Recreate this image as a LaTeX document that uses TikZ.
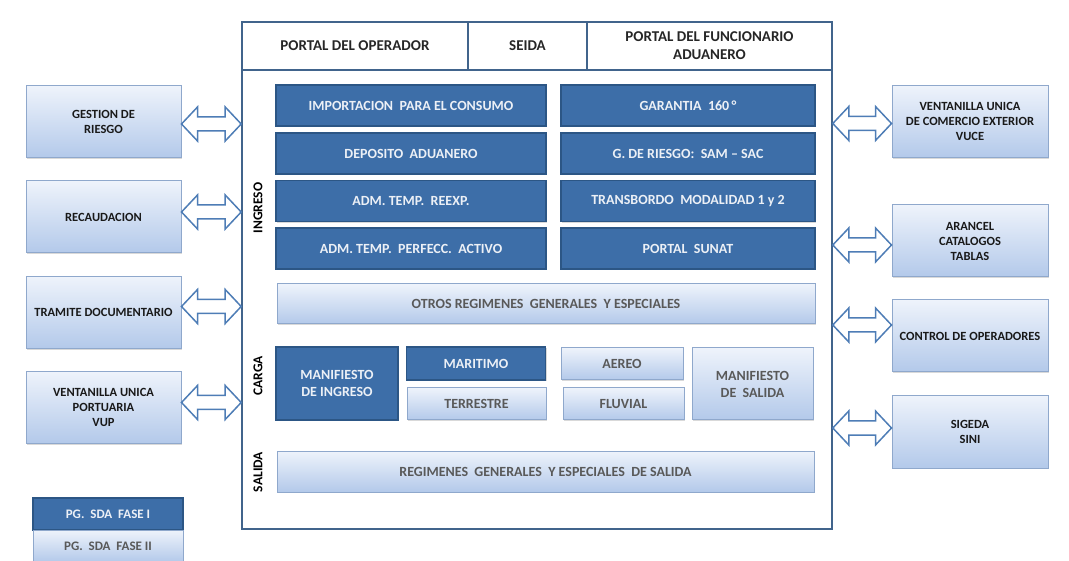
\documentclass[tikz,border=0pt]{standalone}
\usepackage{fontspec}
\setmainfont{Carlito}
\usetikzlibrary{calc,shadows}
\definecolor{azulosc}{HTML}{3D6EA8}
\definecolor{bordeosc}{HTML}{2C5685}
\definecolor{azulcla}{HTML}{B3C9EA}
\definecolor{blancoaz}{HTML}{EEF3FB}
\definecolor{bordecla}{HTML}{8FA8CC}
\definecolor{marcoc}{HTML}{41648C}
\definecolor{flechac}{HTML}{4E7DB6}
\newcommand{\dflecha}[2]{%
  \draw[flecha] let \p1=(#1), \p2=(#2) in
    (\x1,\y1) -- (\x1+16pt,\y1+17pt) -- (\x1+16pt,\y1+7pt) -- (\x2-16pt,\y1+7pt)
    -- (\x2-16pt,\y1+17pt) -- (\x2,\y1) -- (\x2-16pt,\y1-17pt) -- (\x2-16pt,\y1-7pt)
    -- (\x1+16pt,\y1-7pt) -- (\x1+16pt,\y1-17pt) -- cycle;}
\begin{document}
\begin{tikzpicture}[x=1pt,y=-1pt, font=\bfseries,
  oscuro/.style={draw=bordeosc, line width=1.2pt, fill=azulosc, text=white!90!azulosc, align=center, font=\bfseries\fontsize{14}{17}\selectfont, drop shadow={opacity=0.3,shadow xshift=1.2pt,shadow yshift=-1.2pt}},
  claro/.style={draw=bordecla, line width=1pt, top color=blancoaz, bottom color=azulcla, text=black!65, align=center, font=\bfseries\fontsize{14}{17}\selectfont, drop shadow={opacity=0.3,shadow xshift=1.2pt,shadow yshift=-1.2pt}},
  lado/.style={claro, minimum width=155, minimum height=72, text=black!90, font=\bfseries\fontsize{12.5}{15}\selectfont},
  cab/.style={draw=marcoc, line width=1.6pt, align=center, minimum height=48, font=\bfseries\fontsize{15}{18}\selectfont, text=black!85},
  etiq/.style={rotate=90, font=\bfseries\fontsize{13.5}{16}\selectfont},
  flecha/.style={draw=flechac, line width=1.5pt, fill=white, line join=miter}]
\useasboundingbox (0,0) rectangle (1069,561);

\node[draw=marcoc, line width=1.6pt, minimum width=590, minimum height=459] (marco) at (537,299.5) {};
\node[cab, minimum width=226] (oper) at (355,46) {PORTAL\ DEL OPERADOR};
\node[cab, minimum width=119] (seida) at (527.5,46) {SEIDA};
\node[cab, minimum width=245] (func) at (709.5,46) {PORTAL\ DEL FUNCIONARIO\\ADUANERO};

\node[etiq] (ingreso) at (258,208) {INGRESO};
\node[etiq] (carga) at (258,376) {CARGA};
\node[etiq] (salida) at (258,472) {SALIDA};

\node[oscuro, minimum width=270, minimum height=41] (imp) at (411,105.5) {IMPORTACION\ \ PARA EL CONSUMO};
\node[oscuro, minimum width=270, minimum height=41] (dep) at (411,153.5) {DEPOSITO\ \ ADUANERO};
\node[oscuro, minimum width=270, minimum height=41] (reexp) at (411,201) {ADM. TEMP.\ \ REEXP.};
\node[oscuro, minimum width=270, minimum height=41] (perf) at (411,248.5) {ADM. TEMP.\ \ PERFECC.\ \ ACTIVO};
\node[oscuro, minimum width=254, minimum height=41] (gar) at (688,105.5) {GARANTIA\ \ 160\,°};
\node[oscuro, minimum width=254, minimum height=41] (griesgo) at (688,153.5) {G. DE RIESGO:\ \ SAM -- SAC};
\node[oscuro, minimum width=254, minimum height=41] (trans) at (688,201) {TRANSBORDO\ \ MODALIDAD 1 y 2};
\node[oscuro, minimum width=254, minimum height=41] (sunat) at (688,248.5) {PORTAL\ \ SUNAT};

\node[claro, minimum width=538, minimum height=40] (otros) at (546,304) {OTROS REGIMENES\ \ GENERALES\ \ Y ESPECIALES};

\node[oscuro, minimum width=122, minimum height=73] (mani) at (337,383.5) {MANIFIESTO\\DE INGRESO};
\node[oscuro, minimum width=139, minimum height=33] (mar) at (476,363.5) {MARITIMO};
\node[claro, minimum width=139, minimum height=32] (ter) at (476.5,404) {TERRESTRE};
\node[claro, minimum width=122, minimum height=32] (aer) at (622,364) {AEREO};
\node[claro, minimum width=121, minimum height=32] (flu) at (623.5,404) {FLUVIAL};
\node[claro, minimum width=121, minimum height=72] (mans) at (752.5,384) {MANIFIESTO\\DE\ \ SALIDA};

\node[claro, minimum width=537, minimum height=41] (reg) at (545.5,471.5) {REGIMENES\ \ GENERALES\ \ Y ESPECIALES\ \ DE SALIDA};

\node[lado] (gr) at (103.5,122) {GESTION DE\\RIESGO};
\node[lado] (rec) at (103.5,217) {RECAUDACION};
\node[lado] (tra) at (103.5,312.5) {TRAMITE DOCUMENTARIO};
\node[lado] (vup) at (103.5,407.5) {VENTANILLA UNICA\\PORTUARIA\\VUP};

\node[lado, minimum width=156] (vuce) at (970,121.5) {VENTANILLA UNICA\\DE COMERCIO EXTERIOR\\VUCE};
\node[lado, minimum width=156] (ara) at (970,241) {ARANCEL\\CATALOGOS\\TABLAS};
\node[lado, minimum width=156] (con) at (970,336) {CONTROL DE OPERADORES};
\node[lado, minimum width=156] (sig) at (970,432) {SIGEDA\\SINI};

\dflecha{[yshift=-2pt]gr.east}{[yshift=-2pt]gr.east -| marco.west}
\dflecha{[yshift=5pt]rec.east}{[yshift=5pt]rec.east -| marco.west}
\dflecha{[yshift=6pt]tra.east}{[yshift=6pt]tra.east -| marco.west}
\dflecha{[yshift=5pt]vup.east}{[yshift=5pt]vup.east -| marco.west}
\dflecha{[yshift=-2pt]vuce.west -| marco.east}{[yshift=-2pt]vuce.west}
\dflecha{[yshift=-4pt]ara.west -| marco.east}{[yshift=-4pt]ara.west}
\dflecha{[yshift=11pt]con.west -| marco.east}{[yshift=11pt]con.west}
\dflecha{[yshift=4pt]sig.west -| marco.east}{[yshift=4pt]sig.west}

\node[oscuro, minimum width=150, minimum height=32, font=\bfseries\fontsize{13}{15}\selectfont] (fase1) at (108,514) {PG.\ \ SDA\ \ FASE I};
\node[claro, minimum width=150, minimum height=32, font=\bfseries\fontsize{13}{15}\selectfont] (fase2) at (108,546) {PG.\ \ SDA\ \ FASE II};
\end{tikzpicture}
\end{document}
